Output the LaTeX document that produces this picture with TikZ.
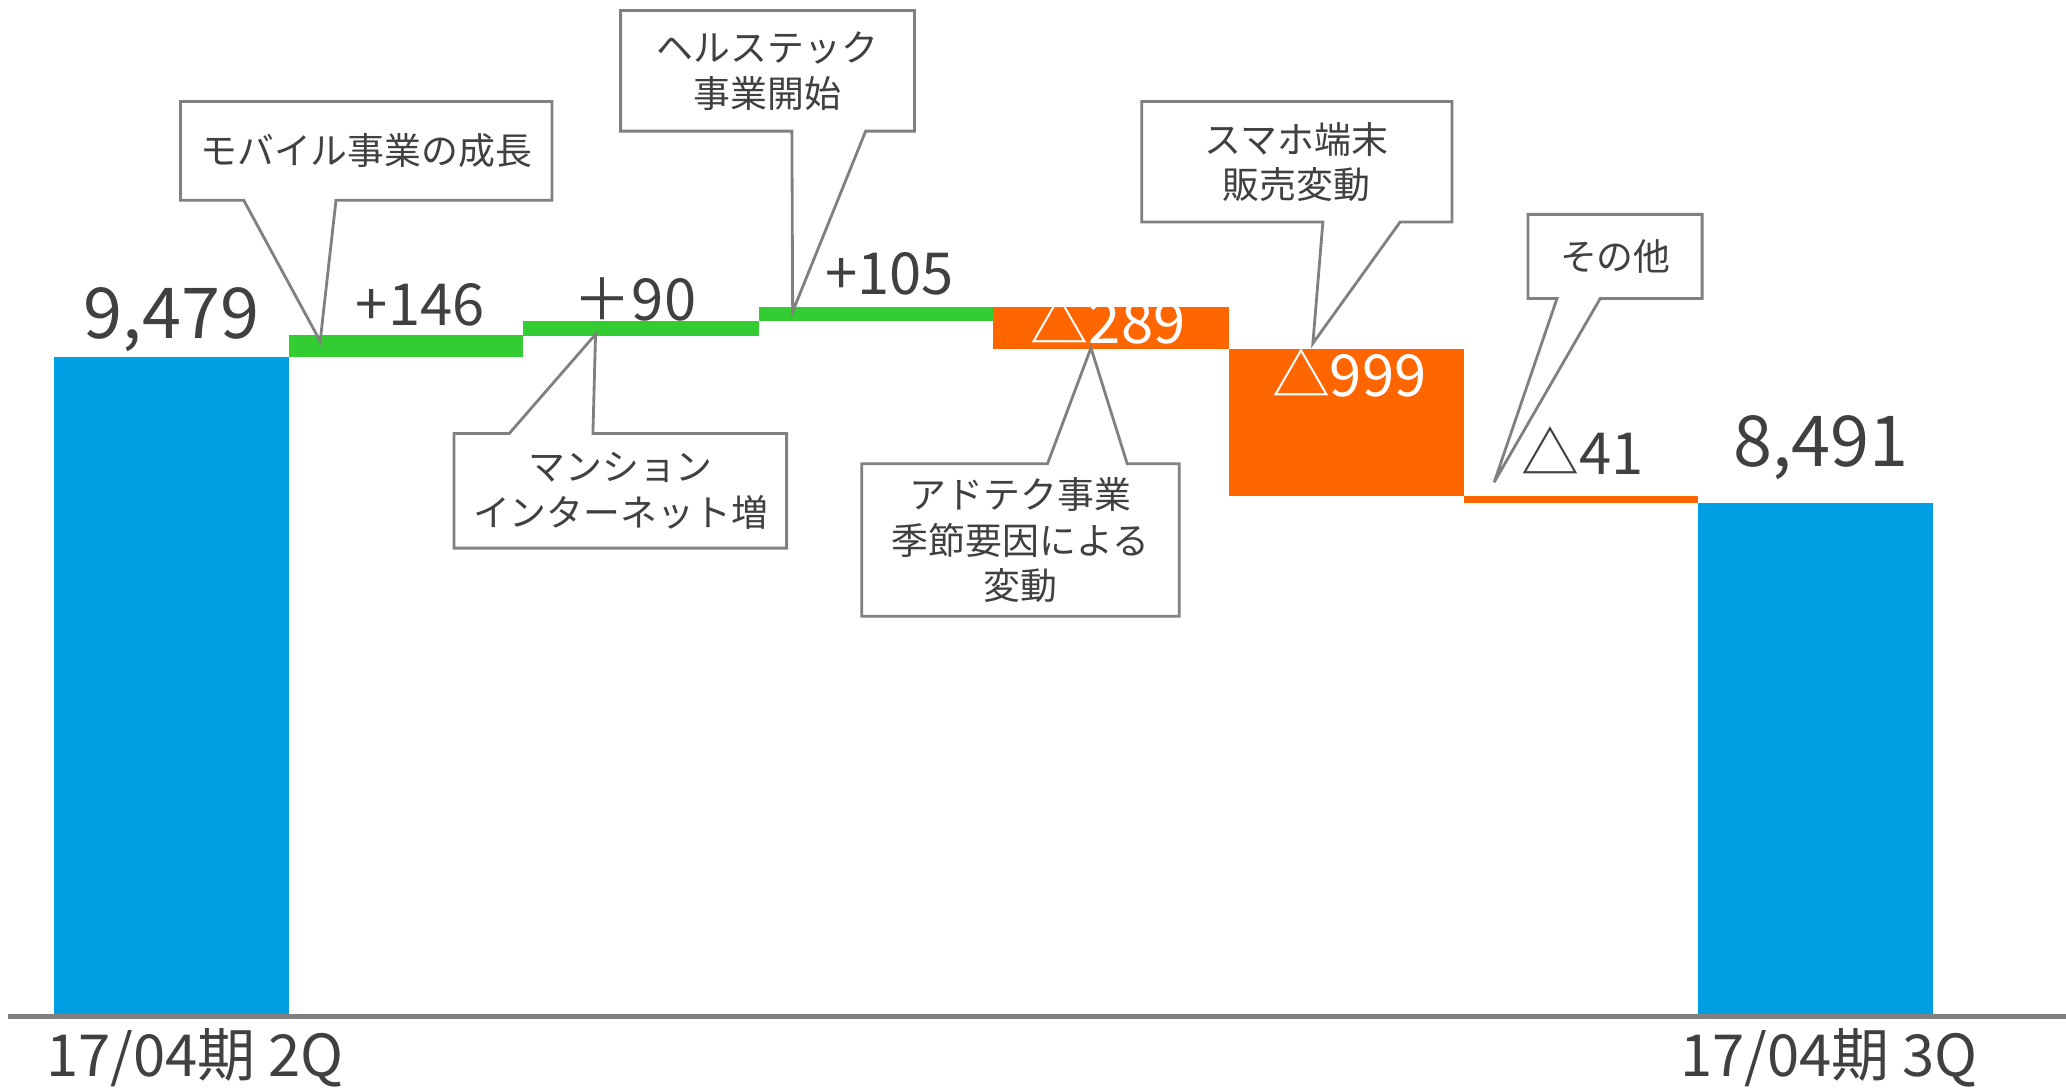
\documentclass[tikz,border=0pt]{standalone}
\usepackage{fontspec}
\setmainfont{Noto Sans CJK JP}
\usepackage{tikz}
\usetikzlibrary{calc}
\definecolor{barblue}{HTML}{009FE3}
\definecolor{upgreen}{HTML}{33CC33}
\definecolor{downorange}{HTML}{FF6600}
\definecolor{txtgray}{HTML}{404040}
\definecolor{linegray}{HTML}{808080}
\tikzset{
	callout/.style={draw=linegray, line width=0.8pt, fill=white, line join=miter},
	num/.style={text=txtgray, font=\fontsize{16.5}{19}\selectfont, anchor=base, inner sep=0pt},
	bignum/.style={num, font=\fontsize{20}{24}\selectfont},
	note/.style={text=txtgray, font=\fontsize{10.5}{13}\selectfont, align=center, inner sep=0pt},
}
% box (x1,y1,x2,y2), pointer base (a,b), tip
\def\calloutdown(#1,#2,#3,#4)(#5,#6)(#7){\draw[callout] (#1,#2) -- (#3,#2) -- (#3,#4) -- (#6,#4) -- (#7) -- (#5,#4) -- (#1,#4) -- cycle;}
\def\calloutup(#1,#2,#3,#4)(#5,#6)(#7){\draw[callout] (#1,#2) -- (#5,#2) -- (#7) -- (#6,#2) -- (#3,#2) -- (#3,#4) -- (#1,#4) -- cycle;}

\begin{document}
\begin{tikzpicture}[x=0.013176cm, y=-0.013176cm]
	%%%%% START %%%%%
	\useasboundingbox (0,0) rectangle (1568,826);
	
	% bars
	\fill[barblue] (41,271) rectangle (219,771);
	\fill[upgreen] (219,254) rectangle (397,271);
	\fill[upgreen] (397,244) rectangle (576,255);
	\fill[upgreen] (576,233) rectangle (754,244);
	\fill[downorange] (754,233) rectangle (933,265);
	\fill[downorange] (933,265) rectangle (1111,376.5);
	\fill[downorange] (1111,376.5) rectangle (1289,381.5);
	\fill[barblue] (1289,381.5) rectangle (1467,771);
	
	\draw[linegray, line width=1.2pt] (6,771.5) -- (1568,771.5);
	
	% values
	\node[bignum] (v0) at (130,257) {9,479};
	\node[num] (v1) at (319,246.7) {+146};
	\node[num] (v2) at (482,243.6) {＋90};
	\node[num] (v3) at (675,223.4) {+105};
	\node[num, text=white] (v4) at (841,260.6) {△289};
	\node[num, text=white] (v5) at (1024,301) {△999};
	\node[num] (v6) at (1201,360.5) {△41};
	\node[bignum] (v7) at (1382,353.7) {8,491};
	
	\node[num] (q2) at (148,816.7) {17/04期 2Q};
	\node[num] (q3) at (1388,816.7) {17/04期 3Q};
	
	% callouts
	\coordinate (t1) at (243,259);
	\calloutdown(137,77,419,152)(185,255)(t1)
	\node[note] (c1) at (278,114.5) {モバイル事業の成長};
	
	\coordinate (t2) at (601.6,236.5);
	\calloutdown(471,8,694,99.5)(601,657)(t2)
	\node[note] (c2) at (582.5,54) {ヘルステック\\事業開始};
	
	\coordinate (t3) at (452,253.7);
	\calloutup(344.6,329,597,416)(386.5,450)(t3)
	\node[note] (c3) at (471,372.5) {マンション\\インターネット増};
	
	\coordinate (t4) at (828,264);
	\calloutup(654,352,895,467.7)(795,855.5)(t4)
	\node[note] (c4) at (774.5,410) {アドテク事業\\季節要因による\\変動};
	
	\coordinate (t5) at (996.4,260.6);
	\calloutdown(866.5,77,1102,168.5)(1004,1062.6)(t5)
	\node[note] (c5) at (984,123) {スマホ端末\\販売変動};
	
	\coordinate (t6) at (1134,366);
	\calloutdown(1159.7,162.7,1291.8,226.5)(1181.7,1214.5)(t6)
	\node[note] (c6) at (1226,194.6) {その他};
	
	%%%%% END %%%%%
\end{tikzpicture}
\end{document}
